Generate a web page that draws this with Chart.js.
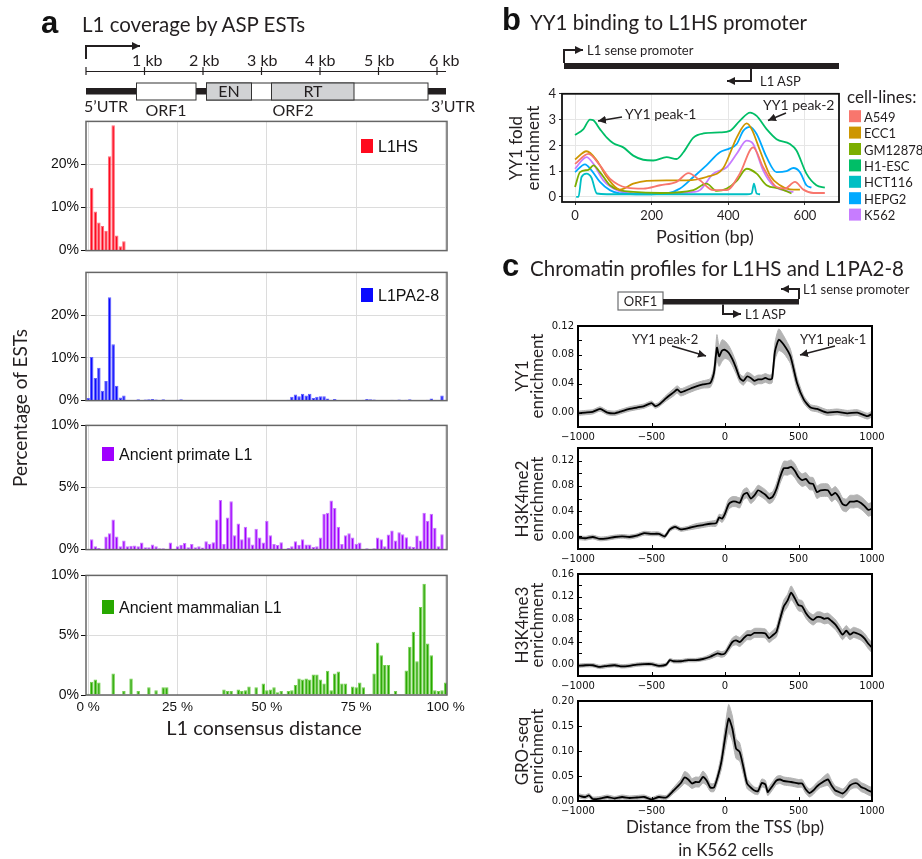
<!DOCTYPE html>
<html>
<head>
<meta charset="utf-8">
<script src="https://cdn.jsdelivr.net/npm/chart.js@4.4.1/dist/chart.umd.min.js"></script>
<style>
  body { margin: 0; background: #fff; }
  #fig { position: relative; width: 922px; height: 859px; overflow: hidden; }
  #fig canvas { position: absolute; z-index: 1; }
  #fig svg { position: absolute; left: 0; top: 0; z-index: 2; }
  .m { font-family: Lato, "Open Sans", sans-serif; fill: #231f20; }
  .ar { font-family: "Liberation Sans", Arial, sans-serif; fill: #111; }
  .bd { font-family: "Liberation Sans", Arial, sans-serif; font-weight: bold; fill: #111; }
</style>
</head>
<body>
<div id="fig">
<canvas id="cvHS" width="477" height="150" style="left:0;top:111px"></canvas>
<canvas id="cvPA" width="477" height="149" style="left:0;top:262px"></canvas>
<canvas id="cvPr" width="477" height="145" style="left:0;top:415px"></canvas>
<canvas id="cvMa" width="477" height="152" style="left:0;top:565px"></canvas>
<canvas id="cvB" width="311" height="146" style="left:540px;top:83px"></canvas>
<canvas id="cvYY1" width="357" height="133" style="left:540px;top:316px"></canvas>
<canvas id="cvMe2" width="357" height="133" style="left:540px;top:438px"></canvas>
<canvas id="cvMe3" width="357" height="134" style="left:540px;top:564px"></canvas>
<canvas id="cvGro" width="357" height="132" style="left:540px;top:691px"></canvas>

<svg width="922" height="859">
  <defs>
    <marker id="ah" viewBox="0 0 10 10" refX="10" refY="5" markerUnits="userSpaceOnUse" markerWidth="8" markerHeight="8" orient="auto">
      <path d="M0,0 L10,5 L0,10 z" fill="#231f20"/>
    </marker>
  </defs>

  <!-- panel a -->
  <text class="bd" x="41" y="33" font-size="31">a</text>
  <text class="m" x="82" y="32" font-size="20.5">L1 coverage by ASP ESTs</text>
  <path d="M86,59 V46 H140" stroke="#231f20" stroke-width="2" fill="none" marker-end="url(#ah)"/>
  <line x1="86" y1="71.5" x2="446" y2="71.5" stroke="#231f20" stroke-width="1.2"/>
  <g stroke="#231f20" stroke-width="1.2">
    <line x1="86" y1="67" x2="86" y2="75"/>
    <line x1="144.5" y1="67" x2="144.5" y2="75"/>
    <line x1="203" y1="67" x2="203" y2="75"/>
    <line x1="261.5" y1="67" x2="261.5" y2="75"/>
    <line x1="320" y1="67" x2="320" y2="75"/>
    <line x1="378.5" y1="67" x2="378.5" y2="75"/>
    <line x1="437" y1="67" x2="437" y2="75"/>
  </g>
  <g class="m" font-size="16">
    <text x="132" y="66">1 kb</text>
    <text x="189" y="66">2 kb</text>
    <text x="247" y="66">3 kb</text>
    <text x="305" y="66">4 kb</text>
    <text x="364" y="66">5 kb</text>
    <text x="429" y="66">6 kb</text>
  </g>
  <rect x="86" y="88" width="360" height="6.5" fill="#231f20"/>
  <rect x="136.5" y="83" width="59.5" height="17" fill="#fff" stroke="#333" stroke-width="1"/>
  <rect x="206.5" y="83" width="221.5" height="17" fill="#fff" stroke="#333" stroke-width="1"/>
  <rect x="206.5" y="83" width="45" height="17" fill="#d1d2d4" stroke="#333" stroke-width="1"/>
  <rect x="271.5" y="83" width="82.5" height="17" fill="#d1d2d4" stroke="#333" stroke-width="1"/>
  <g class="m" font-size="16">
    <text x="229" y="97" text-anchor="middle">EN</text>
    <text x="313" y="97" text-anchor="middle">RT</text>
    <text x="84" y="112">5’UTR</text>
    <text x="166" y="116" text-anchor="middle">ORF1</text>
    <text x="293" y="116" text-anchor="middle">ORF2</text>
    <text x="431" y="112">3’UTR</text>
  </g>
  <rect x="361" y="139" width="12" height="14" fill="#ff0a1e"/>
  <text class="ar" x="378" y="151.5" font-size="16">L1HS</text>
  <rect x="361" y="288" width="12" height="14" fill="#0a0aff"/>
  <text class="ar" x="378" y="301" font-size="16">L1PA2-8</text>
  <rect x="102" y="447" width="12" height="14" fill="#a000ff"/>
  <text class="ar" x="119" y="459.5" font-size="16">Ancient primate L1</text>
  <rect x="102" y="600" width="12" height="14" fill="#28a800"/>
  <text class="ar" x="119" y="612.5" font-size="16">Ancient mammalian L1</text>
  <text class="m" transform="translate(27,408) rotate(-90)" text-anchor="middle" font-size="19">Percentage of ESTs</text>
  <text class="m" x="264" y="735" text-anchor="middle" font-size="20">L1 consensus distance</text>

  <!-- panel b -->
  <text class="bd" x="502" y="30" font-size="31">b</text>
  <text class="m" x="530" y="30" font-size="20.5">YY1 binding to L1HS promoter</text>
  <path d="M564,63 V50 H583" stroke="#231f20" stroke-width="2" fill="none" marker-end="url(#ah)"/>
  <text class="m" x="587" y="55" font-size="13">L1 sense promoter</text>
  <rect x="564" y="63" width="275" height="6" fill="#231f20"/>
  <path d="M751,69 V81 H727" stroke="#231f20" stroke-width="2" fill="none" marker-end="url(#ah)"/>
  <text class="m" x="760" y="86" font-size="13">L1 ASP</text>
  <text class="m" x="625" y="119" font-size="14">YY1 peak-1</text>
  <line x1="622" y1="117" x2="598" y2="121" stroke="#231f20" stroke-width="1.5" marker-end="url(#ah)"/>
  <text class="m" x="763" y="110" font-size="14">YY1 peak-2</text>
  <line x1="786" y1="113" x2="768" y2="120.5" stroke="#231f20" stroke-width="1.5" marker-end="url(#ah)"/>
  <text class="m" transform="translate(522,148) rotate(-90)" text-anchor="middle" font-size="17">YY1 fold</text>
  <text class="m" transform="translate(539,148) rotate(-90)" text-anchor="middle" font-size="17">enrichment</text>
  <text class="m" x="705" y="243" text-anchor="middle" font-size="18">Position (bp)</text>
  <text class="m" x="847" y="103" font-size="17">cell-lines:</text>
  <g id="bLegend" class="m" font-size="13"></g>

  <!-- panel c -->
  <text class="bd" x="502" y="276" font-size="31">c</text>
  <text class="m" x="530" y="276" font-size="20.5">Chromatin profiles for L1HS and L1PA2-8</text>
  <rect x="618" y="292" width="45" height="18" fill="#fff" stroke="#6d6e71" stroke-width="1.2"/>
  <text class="m" x="640.5" y="306" text-anchor="middle" font-size="13">ORF1</text>
  <rect x="663" y="299" width="136" height="5.5" fill="#231f20"/>
  <path d="M799,299 V289 H781" stroke="#231f20" stroke-width="2" fill="none" marker-end="url(#ah)"/>
  <text class="m" x="803" y="294" font-size="13">L1 sense promoter</text>
  <path d="M723,304.5 V314 H741" stroke="#231f20" stroke-width="2" fill="none" marker-end="url(#ah)"/>
  <text class="m" x="745" y="319" font-size="13">L1 ASP</text>
  <text class="m" x="632" y="344" font-size="13">YY1 peak-2</text>
  <line x1="672" y1="346" x2="706" y2="356" stroke="#231f20" stroke-width="1.5" marker-end="url(#ah)"/>
  <text class="m" x="800" y="344" font-size="13">YY1 peak-1</text>
  <line x1="835" y1="346" x2="800" y2="355" stroke="#231f20" stroke-width="1.5" marker-end="url(#ah)"/>
  <g class="m" font-size="17" text-anchor="middle">
    <text transform="translate(528,376) rotate(-90)">YY1</text>
    <text transform="translate(543,376) rotate(-90)">enrichment</text>
    <text transform="translate(528,499) rotate(-90)">H3K4me2</text>
    <text transform="translate(543,499) rotate(-90)">enrichment</text>
    <text transform="translate(528,625) rotate(-90)">H3K4me3</text>
    <text transform="translate(543,625) rotate(-90)">enrichment</text>
    <text transform="translate(528,751) rotate(-90)">GRO-seq</text>
    <text transform="translate(543,751) rotate(-90)">enrichment</text>
  </g>
  <text class="m" x="725" y="833" text-anchor="middle" font-size="17">Distance from the TSS (bp)</text>
  <text class="m" x="726" y="856" text-anchor="middle" font-size="17">in K562 cells</text>
</svg>
</div>

<script>
// ---- panel a: % of ESTs per 1% bin of the L1 consensus (bins 0..100)
var l1hsPct = [
  0, 14.6, 9.1, 6.5, 5.7, 4.6, 21.9, 29.1, 3.5, 1.0,
  2.2, 0, 0, 0, 0, 0, 0, 0, 0, 0,
  0, 0, 0, 0, 0, 0, 0, 0, 0, 0,
  0, 0, 0, 0, 0, 0, 0, 0, 0, 0,
  0, 0, 0, 0, 0, 0, 0, 0, 0, 0,
  0, 0, 0, 0, 0, 0, 0, 0, 0, 0,
  0, 0, 0, 0, 0, 0, 0, 0, 0, 0,
  0, 0, 0, 0, 0, 0, 0, 0, 0, 0,
  0, 0, 0, 0, 0, 0, 0, 0, 0, 0,
  0, 0, 0, 0, 0, 0, 0, 0, 0, 0,
  0
];
var l1paPct = [
  0.6, 10.2, 5.3, 7.7, 2.3, 4.6, 24.2, 13.2, 3.5, 0.75,
  1.2, 0, 0, 0, 0.3, 0, 0.25, 0.3, 0.4, 0.25,
  0.1, 0.3, 0, 0, 0.15, 0.2, 0.3, 0.1, 0.15, 0.15,
  0, 0.15, 0.15, 0.1, 0.1, 0.1, 0.15, 0.1, 0.1, 0.15,
  0.1, 0.1, 0.1, 0.1, 0.1, 0.1, 0.1, 0.1, 0.1, 0.1,
  0.1, 0.1, 0.1, 0, 0.1, 0.1, 0.2, 0.9, 1.4, 1.0,
  1.6, 1.2, 1.6, 0.6, 0.9, 1.0, 1.0, 0.5, 0.2, 0.4,
  0, 0.1, 0.15, 0, 0, 0.1, 0.15, 0.2, 0.35, 0.3,
  0.25, 0.1, 0.1, 0.1, 0, 0.2, 0.1, 0.25, 0.15, 0.2,
  0.3, 0.1, 0.1, 0.1, 0.15, 0.2, 0.5, 0.1, 0, 1.2,
  0
];
var primatePct = [
  0, 0.84, 0.26, 0.13, 0, 1.05, 1.32, 2.42, 1.05, 0.26,
  0.74, 0.26, 0.32, 0.34, 0.26, 0.58, 0.18, 0.18, 0.42, 0.26,
  0.1, 0.1, 0.05, 0.58, 0, 0.26, 0.39, 0.53, 0.18, 0.45,
  0.18, 0.26, 0.16, 0.68, 0.47, 0.6, 2.42, 4.0, 0.45, 2.58,
  3.89, 1.16, 2.1, 0.84, 1.84, 1.0, 0.42, 1.68, 0.97, 0.58,
  2.32, 1.16, 0.45, 0.37, 0.6, 0, 0.13, 0.26, 0.68, 0.39,
  0.84, 0.42, 0.42, 0.21, 0.26, 0.97, 2.89, 2.97, 3.95, 3.34,
  1.84, 0.45, 1.16, 1.32, 0.97, 0.47, 0.58, 0, 0.1, 0.05,
  0.1, 0.97, 0.84, 0.26, 1.21, 1.53, 0.74, 1.39, 1.24, 1.0,
  0.26, 0.21, 1.13, 0.74, 2.97, 2.32, 2.89, 1.76, 0.26, 1.24,
  0
];
var mammalPct = [
  0.1, 1.1, 1.3, 1.05, 0, 0, 0, 1.8, 0, 0,
  0.33, 0, 1.39, 0, 0.33, 0, 0, 0.64, 0, 0.39,
  0, 0.64, 0.64, 0.05, 0, 0, 0, 0, 0, 0,
  0, 0, 0, 0, 0, 0, 0, 0, 0.47, 0.33,
  0.33, 0, 0.47, 0.33, 0.39, 0.72, 0.05, 0.64, 0, 0.97,
  0.39, 0.47, 0.64, 0.22, 0.33, 0.1, 0.33, 0.39, 0.83, 1.39,
  1.3, 1.39, 1.3, 1.72, 1.72, 1.3, 0.97, 2.03, 0.39, 1.8,
  1.97, 0.97, 0.97, 0, 0.72, 0.64, 1.05, 0.64, 0, 0.1,
  1.8, 4.39, 3.33, 2.5, 2.5, 0.1, 0.33, 0, 0.05, 2.05,
  4.03, 5.28, 2.83, 7.36, 9.3, 4.3, 3.33, 0.39, 0.33, 0.39,
  1.05
];
var pctTicks = [0, 25, 50, 75, 100];
var bigTicks = [0, 10, 20];
var smallTicks = [0, 5, 10];

// ---- panel b: YY1 fold enrichment along the L1HS promoter
var cellLines = ['A549', 'ECC1', 'GM12878', 'H1-ESC', 'HCT116', 'HEPG2', 'K562'];
var cellColors = ['#F8766D', '#CD9600', '#7CAE00', '#00BE67', '#00BFC4', '#00A9FF', '#C77CFF'];
var a549Pos = [0, 35, 65, 91, 135, 178, 222, 265, 296, 326, 361, 396, 430, 465, 491, 526, 548, 574, 596, 622, 652];
var a549Fold = [1.28, 1.67, 1.22, 0.71, 0.36, 0.32, 0.45, 0.58, 0.92, 0.64, 0.26, 0.26, 0.9, 1.92, 1.15, 0.38, 0.32, 0.58, 0.28, 0.15, 0.15];
var ecc1Pos = [0, 30, 57, 83, 117, 152, 187, 239, 291, 343, 387, 422, 448, 461, 483, 509, 535, 561, 587];
var ecc1Fold = [1.45, 1.77, 1.41, 0.77, 0.28, 0.51, 0.62, 0.64, 0.64, 0.77, 1.12, 2.3, 2.85, 2.63, 1.79, 0.83, 0.45, 0.29, 0.28];
var gmPos = [0, 13, 35, 48, 65, 91, 117, 152, 222, 309, 343, 370, 396, 422, 448, 474, 500, 535, 565];
var gmFold = [0.38, 0.96, 1.05, 1.22, 0.96, 0.45, 0.26, 0.19, 0.15, 0.26, 0.51, 0.23, 0.32, 0.62, 1.09, 0.9, 0.45, 0.32, 0.13];
var h1Pos = [0, 22, 39, 48, 65, 83, 100, 126, 152, 178, 204, 239, 265, 283, 309, 335, 378, 404, 430, 457, 474, 500, 526, 561, 578, 604, 630, 652];
var h1Fold = [2.4, 2.63, 3.0, 2.97, 2.63, 2.3, 2.08, 1.92, 1.6, 1.44, 1.41, 1.54, 1.47, 1.73, 2.3, 2.46, 2.5, 2.56, 2.95, 3.27, 3.14, 2.63, 2.24, 2.05, 1.8, 0.9, 0.45, 0.36];
var hctPos = [3, 9, 17, 30, 43, 57, 83, 448, 461, 467, 474, 483];
var hctFold = [0, 0, 0.77, 0.9, 0.74, 0.13, 0.1, 0.1, 0.13, 0.51, 0.13, 0.1];
var hepPos = [0, 26, 43, 65, 91, 117, 178, 239, 274, 309, 343, 378, 404, 422, 439, 457, 474, 500, 526, 552, 570, 587, 604, 617];
var hepFold = [0.96, 1.26, 1.03, 0.58, 0.26, 0.13, 0.1, 0.13, 0.32, 0.77, 1.22, 1.73, 1.88, 2.05, 2.56, 2.72, 2.44, 1.54, 0.96, 1.0, 1.12, 0.96, 0.45, 0.36];
var k562Pos = [0, 30, 48, 74, 109, 152, 222, 309, 326, 361, 396, 422, 448, 465, 491, 517, 552, 570];
var k562Fold = [1.09, 1.54, 1.28, 0.64, 0.26, 0.13, 0.13, 0.19, 0.26, 0.9, 1.15, 1.67, 2.18, 2.05, 1.03, 0.45, 0.23, 0.19];
var posTicks = [0, 200, 400, 600];
var foldTicks = [0, 1, 2, 3, 4];

// ---- panel c: mean enrichment and band half-width around the TSS
var yy1Pos = [-1000, -950, -900, -850, -800, -750, -700, -650, -600, -550, -500, -475, -450,
  -400, -350, -325, -300, -250, -200, -150, -100, -75, -55, -40, -20, 0, 25, 50, 75,
  100, 125, 150, 175, 200, 225, 250, 275, 300, 320, 340, 366, 400, 445, 490, 536,
  582, 627, 695, 764, 832, 900, 968, 1000];
var yy1Mean = [-0.001, 0, 0.001, 0.005, 0, -0.001, 0.002, 0.005, 0.007, 0.009, 0.013, 0.009, 0.011,
  0.02, 0.028, 0.032, 0.028, 0.032, 0.036, 0.039, 0.041, 0.055, 0.09, 0.078, 0.086, 0.087, 0.083, 0.074, 0.062,
  0.048, 0.044, 0.05, 0.048, 0.044, 0.046, 0.046, 0.048, 0.046, 0.047, 0.085, 0.101, 0.094, 0.078, 0.041, 0.018,
  0.007, 0.005, 0, 0.001, -0.001, 0, -0.005, -0.002];
var yy1Err = [0.003, 0.003, 0.003, 0.003, 0.003, 0.003, 0.003, 0.003, 0.003, 0.003, 0.003, 0.003, 0.003,
  0.004, 0.005, 0.005, 0.005, 0.005, 0.005, 0.005, 0.006, 0.008, 0.018, 0.014, 0.015, 0.012, 0.01, 0.009, 0.008,
  0.006, 0.006, 0.006, 0.006, 0.006, 0.006, 0.006, 0.006, 0.006, 0.006, 0.012, 0.015, 0.012, 0.01, 0.008, 0.005,
  0.004, 0.004, 0.004, 0.004, 0.004, 0.004, 0.004, 0.004];
var me2Pos = [-1000, -950, -900, -850, -800, -750, -700, -650, -600, -550, -500, -450,
  -410, -375, -340, -300, -250, -200, -150, -100, -60, -40, -20,
  0, 25, 50, 75, 100, 125, 150, 175, 200, 225, 250, 275, 300, 325, 350, 375, 400, 425, 450, 475,
  500, 525, 550, 575, 600, 625, 650, 700, 725, 750, 775, 800, 825, 850, 875, 900, 925, 950, 975, 1000];
var me2Mean = [-0.002, -0.003, -0.001, -0.004, -0.003, -0.001, 0, -0.001, 0.001, 0.005, 0.004, 0.004,
  0, 0.011, 0.015, 0.011, 0.013, 0.016, 0.018, 0.02, 0.021, 0.03, 0.028,
  0.036, 0.051, 0.055, 0.055, 0.053, 0.066, 0.069, 0.06, 0.065, 0.073, 0.07, 0.066, 0.06, 0.063, 0.075, 0.094, 0.108, 0.108, 0.11, 0.104,
  0.094, 0.089, 0.091, 0.084, 0.083, 0.07, 0.073, 0.073, 0.065, 0.069, 0.062, 0.051, 0.049, 0.055, 0.055, 0.056, 0.053, 0.048, 0.042, 0.044];
var me2Err = [0.003, 0.003, 0.003, 0.003, 0.003, 0.003, 0.003, 0.003, 0.003, 0.003, 0.003, 0.003,
  0.003, 0.003, 0.003, 0.003, 0.003, 0.004, 0.004, 0.004, 0.005, 0.005, 0.006,
  0.007, 0.008, 0.008, 0.008, 0.008, 0.008, 0.008, 0.008, 0.008, 0.008, 0.008, 0.008, 0.008, 0.008, 0.009, 0.01, 0.011, 0.011, 0.011, 0.011,
  0.01, 0.01, 0.01, 0.01, 0.01, 0.01, 0.01, 0.01, 0.01, 0.01, 0.01, 0.01, 0.01, 0.01, 0.01, 0.01, 0.01, 0.01, 0.01, 0.01];
var me3Pos = [-1000, -950, -900, -850, -800, -750, -700, -650, -600, -550, -500, -450, -400,
  -375, -350, -300, -250, -200, -150, -100, -50, -25,
  0, 25, 50, 75, 100, 125, 150, 175, 200,
  250, 275, 300, 325, 350, 375, 400, 425, 450, 475, 500, 525, 550, 575, 600, 625, 650, 675, 700,
  725, 750, 775, 800, 825, 850, 875, 900, 925, 950, 975, 1000];
var me3Mean = [-0.002, -0.001, -0.001, -0.004, -0.002, -0.001, -0.003, -0.002, 0, 0.001, 0.001, -0.002, 0,
  0.008, 0.006, 0.006, 0.008, 0.008, 0.01, 0.014, 0.02, 0.018,
  0.02, 0.03, 0.04, 0.043, 0.04, 0.046, 0.052, 0.052, 0.056,
  0.056, 0.055, 0.047, 0.052, 0.058, 0.081, 0.103, 0.113, 0.127, 0.117, 0.105, 0.103, 0.091, 0.083, 0.079, 0.084, 0.084, 0.081, 0.082,
  0.077, 0.071, 0.062, 0.053, 0.06, 0.053, 0.057, 0.055, 0.052, 0.046, 0.037, 0.03];
var me3Err = [0.003, 0.003, 0.003, 0.003, 0.003, 0.003, 0.003, 0.003, 0.003, 0.003, 0.003, 0.003, 0.003,
  0.003, 0.003, 0.003, 0.003, 0.003, 0.003, 0.004, 0.005, 0.005,
  0.005, 0.006, 0.007, 0.008, 0.008, 0.008, 0.008, 0.008, 0.008,
  0.008, 0.008, 0.008, 0.008, 0.009, 0.01, 0.011, 0.011, 0.012, 0.011, 0.01, 0.01, 0.009, 0.009, 0.009, 0.009, 0.009, 0.009, 0.009,
  0.009, 0.009, 0.009, 0.009, 0.009, 0.009, 0.009, 0.009, 0.009, 0.009, 0.009, 0.009];
var groPos = [-1000, -975, -950, -925,
  -900, -850, -800, -750, -700, -650, -600, -550, -500, -450, -400, -350, -300,
  -275, -250, -225, -200, -175, -150, -125, -100, -75, -50, -25, 0, 25, 50, 75, 100, 125, 150, 175, 200, 225, 250, 275,
  290, 300, 325, 350, 375, 400, 450, 500, 525, 550, 575, 600, 625, 650,
  700, 725, 750, 775, 800, 825, 850, 875, 900, 925, 950, 975, 1000];
var groMean = [0.011, 0.009, 0.008, 0.011,
  0.004, 0.005, 0.008, 0.005, 0.008, 0.006, 0.007, 0.008, 0.003, 0.008, 0.007, 0.021, 0.036,
  0.047, 0.043, 0.035, 0.038, 0.038, 0.048, 0.041, 0.027, 0.027, 0.048, 0.078, 0.125, 0.165, 0.145, 0.105, 0.098, 0.068, 0.035, 0.027, 0.021, 0.02, 0.036, 0.033,
  0.018, 0.021, 0.031, 0.041, 0.043, 0.04, 0.038, 0.035, 0.035, 0.023, 0.016, 0.021, 0.029, 0.035,
  0.043, 0.031, 0.021, 0.018, 0.015, 0.021, 0.031, 0.035, 0.035, 0.028, 0.025, 0.021, 0.018];
var groErr = [0.004, 0.004, 0.004, 0.004,
  0.004, 0.004, 0.004, 0.004, 0.004, 0.004, 0.004, 0.004, 0.004, 0.004, 0.004, 0.006, 0.008,
  0.012, 0.012, 0.01, 0.01, 0.01, 0.012, 0.01, 0.008, 0.008, 0.01, 0.015, 0.022, 0.028, 0.025, 0.02, 0.018, 0.015, 0.01, 0.008, 0.007, 0.007, 0.008, 0.008,
  0.007, 0.008, 0.008, 0.008, 0.008, 0.008, 0.008, 0.008, 0.008, 0.008, 0.008, 0.008, 0.008, 0.008,
  0.012, 0.01, 0.009, 0.009, 0.009, 0.009, 0.009, 0.009, 0.009, 0.009, 0.009, 0.009, 0.009];
var tssTicks = [-1000, -500, 0, 500, 1000];

(function() {
    'use strict';

    var binPos = [];
    for (var b = 0; b < l1hsPct.length; b++) binPos.push(b);

    // frame around the plotting area
    var framePlugin = {
        id: 'frame',
        afterDatasetsDraw: function(chart, args, opts) {
            var a = chart.chartArea, ctx = chart.ctx;
            ctx.save();
            ctx.strokeStyle = opts.color || '#000';
            ctx.lineWidth = opts.width || 1;
            ctx.strokeRect(a.left, a.top, a.right - a.left, a.bottom - a.top);
            ctx.restore();
        }
    };

    // matplotlib-like ticks pointing into the plot
    var inTicksPlugin = {
        id: 'inTicks',
        afterDatasetsDraw: function(chart, args, opts) {
            if (!opts.y) return;
            var a = chart.chartArea, ctx = chart.ctx;
            ctx.save();
            ctx.strokeStyle = '#000';
            ctx.lineWidth = 1;
            ctx.beginPath();
            opts.y.forEach(function(v) {
                var p = Math.round(chart.scales.y.getPixelForValue(v)) + 0.5;
                ctx.moveTo(a.left, p); ctx.lineTo(a.left + 4, p);
            });
            opts.x.forEach(function(v) {
                var p = Math.round(chart.scales.x.getPixelForValue(v)) + 0.5;
                ctx.moveTo(p, a.bottom); ctx.lineTo(p, a.bottom - 4);
            });
            ctx.stroke();
            ctx.restore();
        }
    };

    function fixTicks(values) {
        return function(scale) {
            scale.ticks = values.map(function(v) { return { value: v }; });
        };
    }
    function fixWidth(w) { return function(scale) { scale.width = w; }; }
    function fixHeight(h) { return function(scale) { scale.height = h; }; }

    var arial = 'Liberation Sans';
    var myriad = 'Lato';
    var dejavu = 'DejaVu Sans';

    function histogram(id, values, fill, edge, yMax, yTicks, showX) {
        var pts = values.map(function(v, i) { return { x: binPos[i], y: v }; });
        return new Chart(document.getElementById(id), {
            type: 'bar',
            data: {
                datasets: [{
                    data: pts,
                    backgroundColor: fill,
                    borderColor: edge,
                    borderWidth: 1,
                    barPercentage: 0.97,
                    categoryPercentage: 1
                }]
            },
            options: {
                responsive: false,
                animation: false,
                layout: { padding: { top: 10, right: 30, bottom: showX ? 2 : 8, left: 0 } },
                plugins: {
                    legend: { display: false },
                    tooltip: { enabled: false },
                    frame: { color: '#666', width: 1.5 }
                },
                scales: {
                    x: {
                        type: 'linear', min: -0.6, max: 100.4, offset: false,
                        afterBuildTicks: fixTicks(pctTicks),
                        afterFit: fixHeight(showX ? 20 : 0),
                        grid: { color: '#dcdcdc', offset: false, drawTicks: false },
                        border: { display: false },
                        ticks: {
                            display: showX, padding: 4, maxRotation: 0, autoSkip: false,
                            color: '#111', font: { family: arial, size: 13.5 },
                            callback: function(v) { return v + ' %'; }
                        }
                    },
                    y: {
                        min: 0, max: yMax,
                        afterBuildTicks: fixTicks(yTicks),
                        afterFit: fixWidth(86),
                        grid: { color: '#dcdcdc', tickColor: '#111', tickLength: 5 },
                        border: { display: false },
                        ticks: {
                            padding: 2, color: '#111', font: { family: arial, size: 14 },
                            callback: function(v) { return v + '%'; }
                        }
                    }
                }
            },
            plugins: [framePlugin]
        });
    }

    histogram('cvHS', l1hsPct, '#ff0a1e', '#ff6b78', 30, bigTicks, false);
    histogram('cvPA', l1paPct, '#0a0aff', '#6060ff', 30, bigTicks, false);
    histogram('cvPr', primatePct, '#a000ff', '#c878ff', 10, smallTicks, false);
    histogram('cvMa', mammalPct, '#28a800', '#74d050', 10, smallTicks, true);

    // panel b
    var bPos = [a549Pos, ecc1Pos, gmPos, h1Pos, hctPos, hepPos, k562Pos];
    var bFold = [a549Fold, ecc1Fold, gmFold, h1Fold, hctFold, hepFold, k562Fold];
    new Chart(document.getElementById('cvB'), {
        type: 'line',
        data: {
            datasets: cellLines.map(function(name, k) {
                return {
                    label: name,
                    data: bPos[k].map(function(p, i) { return { x: p, y: bFold[k][i] }; }),
                    borderColor: cellColors[k],
                    borderWidth: 1.8,
                    pointRadius: 0,
                    cubicInterpolationMode: 'monotone',
                    fill: false
                };
            })
        },
        options: {
            responsive: false,
            animation: false,
            layout: { padding: { top: 10, right: 12, bottom: 2, left: 0 } },
            plugins: { legend: { display: false }, tooltip: { enabled: false }, frame: { color: '#111', width: 1.8 } },
            scales: {
                x: {
                    type: 'linear', min: -34, max: 689,
                    afterBuildTicks: fixTicks(posTicks),
                    afterFit: fixHeight(25),
                    grid: { color: '#e6e6e6', tickColor: '#333', tickLength: 3 },
                    border: { display: false },
                    ticks: { padding: 3, color: '#231f20', font: { family: myriad, size: 13 }, maxRotation: 0 }
                },
                y: {
                    min: -0.2, max: 4,
                    afterBuildTicks: fixTicks(foldTicks),
                    afterFit: fixWidth(22),
                    grid: { color: '#e6e6e6', tickColor: '#333', tickLength: 3 },
                    border: { display: false },
                    ticks: { padding: 3, color: '#231f20', font: { family: myriad, size: 13 } }
                }
            }
        },
        plugins: [framePlugin]
    });

    var leg = document.getElementById('bLegend');
    var svgNS = 'http://www.w3.org/2000/svg';
    cellLines.forEach(function(name, k) {
        var base = 121.7 + k * 16.4;
        var r = document.createElementNS(svgNS, 'rect');
        r.setAttribute('x', 849); r.setAttribute('y', base - 11.5);
        r.setAttribute('width', 12); r.setAttribute('height', 12);
        r.setAttribute('fill', cellColors[k]);
        leg.appendChild(r);
        var t = document.createElementNS(svgNS, 'text');
        t.setAttribute('x', 864); t.setAttribute('y', base);
        t.textContent = name;
        leg.appendChild(t);
    });

    // panel c
    function minusLabel(v) { return v < 0 ? '\u2212' + Math.abs(v) : String(v); }

    function profile(id, pos, mean, err, yMin, yMax, yLabels, yMarks) {
        var line = pos.map(function(p, i) { return { x: p, y: mean[i] }; });
        var upper = pos.map(function(p, i) { return { x: p, y: mean[i] + err[i] }; });
        var lower = pos.map(function(p, i) { return { x: p, y: mean[i] - err[i] }; });
        return new Chart(document.getElementById(id), {
            type: 'line',
            data: {
                datasets: [
                    { data: line, borderColor: '#000', borderWidth: 1.8, pointRadius: 0, tension: 0.2, fill: false },
                    { data: upper, borderColor: '#b3b3b3', borderWidth: 1, pointRadius: 0, tension: 0.2,
                      backgroundColor: '#b3b3b3', fill: '+1' },
                    { data: lower, borderColor: '#b3b3b3', borderWidth: 1, pointRadius: 0, tension: 0.2, fill: false }
                ]
            },
            options: {
                responsive: false,
                animation: false,
                layout: { padding: { top: 10, right: 25, bottom: 2, left: 0 } },
                plugins: {
                    legend: { display: false }, tooltip: { enabled: false },
                    frame: { color: '#000', width: 2 },
                    inTicks: { x: tssTicks, y: yMarks }
                },
                scales: {
                    x: {
                        type: 'linear', min: -1000, max: 1000,
                        afterBuildTicks: fixTicks(tssTicks),
                        afterFit: fixHeight(20),
                        grid: { display: false, drawTicks: false },
                        border: { display: false },
                        ticks: { padding: 4, color: '#111', font: { family: dejavu, size: 10 }, maxRotation: 0,
                                 autoSkip: false, callback: minusLabel }
                    },
                    y: {
                        min: yMin, max: yMax,
                        afterBuildTicks: fixTicks(yLabels),
                        afterFit: fixWidth(38),
                        grid: { display: false, drawTicks: false },
                        border: { display: false },
                        ticks: { padding: 4, color: '#111', font: { family: dejavu, size: 10 },
                                 callback: function(v) { return v.toFixed(2); } }
                    }
                }
            },
            plugins: [framePlugin, inTicksPlugin]
        });
    }

    profile('cvYY1', yy1Pos, yy1Mean, yy1Err, -0.02, 0.12,
        [0, 0.04, 0.08, 0.12], [0, 0.02, 0.04, 0.06, 0.08, 0.1, 0.12]);
    profile('cvMe2', me2Pos, me2Mean, me2Err, -0.02, 0.14,
        [0, 0.04, 0.08, 0.12], [0, 0.02, 0.04, 0.06, 0.08, 0.1, 0.12]);
    profile('cvMe3', me3Pos, me3Mean, me3Err, -0.02, 0.16,
        [0, 0.04, 0.08, 0.12, 0.16], [0, 0.02, 0.04, 0.06, 0.08, 0.1, 0.12, 0.14, 0.16]);
    profile('cvGro', groPos, groMean, groErr, 0, 0.2,
        [0, 0.05, 0.1, 0.15, 0.2], [0, 0.05, 0.1, 0.15, 0.2]);
})();
</script>
</body>
</html>
